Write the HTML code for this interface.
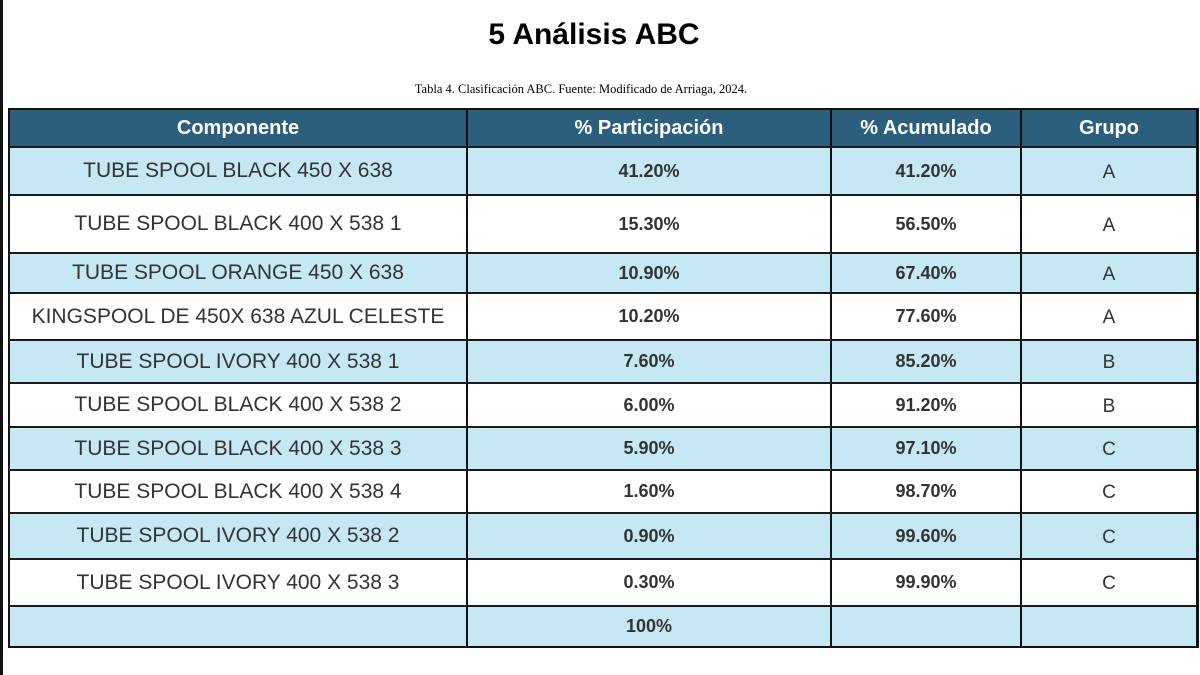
<!DOCTYPE html>
<html><head><meta charset="utf-8"><style>
body{margin:0;width:1200px;height:675px;background:#fff;position:relative;overflow:hidden;font-family:"Liberation Sans",sans-serif}
.edge{position:absolute;left:0;top:0;width:3px;height:675px;background:#111}
h1{position:absolute;top:18px;left:0;width:1188px;text-align:center;margin:0;font-size:30px;font-weight:bold;color:#000}
.cap{position:absolute;top:82px;left:0;width:1162px;text-align:center;font-family:"Liberation Serif",serif;font-size:12.5px;color:#000}
.tbl{position:absolute;left:8px;top:108px;width:1186px;height:536px;border:2px solid #111;border-right-width:3px}
.row{position:absolute;left:0;width:1186px;border-bottom:2px solid #1a1a1a;box-sizing:border-box}
.row div{position:absolute;top:0;height:100%;display:flex;align-items:center;justify-content:center;box-sizing:border-box;color:#333}
.c1{left:0;width:456px;font-size:21px}
.c2{left:456px;width:364px;border-left:2px solid #111;font-size:18px;font-weight:bold}
.c3{left:820px;width:190px;border-left:2px solid #111;font-size:18px;font-weight:bold}
.c4{left:1010px;width:176px;border-left:2px solid #111;font-size:19px;padding-top:3px}
.b{background:#c5e8f4}
.w{background:#fff}
.h{background:#2c5f7e}
.h div{color:#fff!important;font-weight:bold;font-size:20px;padding-top:0}
</style></head><body>
<div class="edge"></div>
<h1>5 Análisis ABC</h1>
<div class="cap">Tabla 4. Clasificación ABC. Fuente: Modificado de Arriaga, 2024.</div>
<div class="tbl">
<div class="row h" style="top:0;height:38px"><div class="c1">Componente</div><div class="c2">% Participación</div><div class="c3">% Acumulado</div><div class="c4">Grupo</div></div>
<div class="row b" style="top:38px;height:48px"><div class="c1">TUBE SPOOL BLACK 450 X 638</div><div class="c2">41.20%</div><div class="c3">41.20%</div><div class="c4">A</div></div>
<div class="row w" style="top:86px;height:58px"><div class="c1">TUBE SPOOL BLACK 400 X 538 1</div><div class="c2">15.30%</div><div class="c3">56.50%</div><div class="c4">A</div></div>
<div class="row b" style="top:144px;height:40px"><div class="c1">TUBE SPOOL ORANGE 450 X 638</div><div class="c2">10.90%</div><div class="c3">67.40%</div><div class="c4">A</div></div>
<div class="row w" style="top:184px;height:47px"><div class="c1">KINGSPOOL DE 450X 638 AZUL CELESTE</div><div class="c2">10.20%</div><div class="c3">77.60%</div><div class="c4">A</div></div>
<div class="row b" style="top:231px;height:43px"><div class="c1">TUBE SPOOL IVORY 400 X 538 1</div><div class="c2">7.60%</div><div class="c3">85.20%</div><div class="c4">B</div></div>
<div class="row w" style="top:274px;height:44px"><div class="c1">TUBE SPOOL BLACK 400 X 538 2</div><div class="c2">6.00%</div><div class="c3">91.20%</div><div class="c4">B</div></div>
<div class="row b" style="top:318px;height:43px"><div class="c1">TUBE SPOOL BLACK 400 X 538 3</div><div class="c2">5.90%</div><div class="c3">97.10%</div><div class="c4">C</div></div>
<div class="row w" style="top:361px;height:43px"><div class="c1">TUBE SPOOL BLACK 400 X 538 4</div><div class="c2">1.60%</div><div class="c3">98.70%</div><div class="c4">C</div></div>
<div class="row b" style="top:404px;height:46px"><div class="c1">TUBE SPOOL IVORY 400 X 538 2</div><div class="c2">0.90%</div><div class="c3">99.60%</div><div class="c4">C</div></div>
<div class="row w" style="top:450px;height:47px"><div class="c1">TUBE SPOOL IVORY 400 X 538 3</div><div class="c2">0.30%</div><div class="c3">99.90%</div><div class="c4">C</div></div>
<div class="row b" style="top:497px;height:39px;border-bottom:none"><div class="c1"></div><div class="c2">100%</div><div class="c3"></div><div class="c4"></div></div>
</div>
</body></html>
